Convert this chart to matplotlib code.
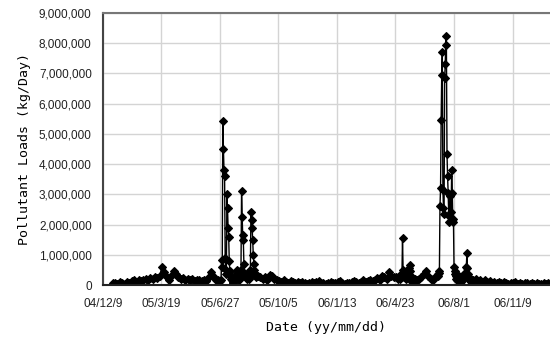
import pandas as pd
import matplotlib
matplotlib.use("Agg")
import matplotlib.pyplot as plt
from matplotlib.ticker import FuncFormatter

origin = pd.Timestamp("2004-12-09")

# daily pollutant loads (1000 kg/day); each block: first day after origin, step in days, values
winter_spring_2005 = (17, 4, [
    60, 80, 50, 90, 70, 40, 100, 80, 120, 150,
    110, 170, 130, 180, 210, 160, 230, 200, 250, 220,
    300, 600, 420, 250, 180, 300, 450, 380, 260, 200,
    230, 170, 210, 160, 190, 140, 180, 150, 120, 170,
    140, 250, 420, 300, 150, 180])

summer_2005 = (201, 1, [
    120, 180, 830, 600, 5420, 4500, 3800, 3600, 900, 500,
    350, 3000, 2550, 1900, 1600, 800, 450, 300, 200, 250,
    150, 100, 60, 120, 200, 150, 300, 250, 400, 500,
    350, 200, 150, 300, 450, 500, 3100, 2250, 1650, 1500,
    700, 400, 300, 250, 300, 200, 350, 250, 200, 300,
    500, 350, 2400, 2150, 1900, 1500, 1000, 700, 500, 350,
    250, 300])

autumn_winter = (265, 4, [
    300, 250, 200, 260, 180, 340, 300, 200, 150, 120,
    100, 150, 90, 80, 120, 100, 70, 90, 60, 110,
    80, 50, 70, 100, 60, 90, 140, 80, 60, 50,
    70, 110, 80, 60, 90, 120, 70, 50, 80, 60,
    100, 130, 90, 70, 110, 150, 100, 120, 180, 130,
    160, 220, 180, 300, 250, 200, 420, 300, 250, 280,
    200])

may_2006 = (506, 1, [
    250, 300, 200, 350, 250, 300, 1550, 500, 300, 250,
    400, 300, 200, 350, 300, 400, 450, 550, 650, 450,
    300, 150, 100, 150, 200, 120, 100, 200])

june_2006 = (536, 4, [150, 200, 250, 350, 480, 300, 200, 150, 250, 300])

summer_2006 = (573, 1, [
    350, 450, 400, 2600, 3200, 5450, 6950, 7700, 3150, 2550,
    2350, 6850, 7300, 8250, 7950, 4350, 3600, 3050, 2300, 2100,
    2950, 3000, 2400, 3800, 3050, 2100, 2200, 600, 450, 350,
    300, 200, 150, 250, 200, 300, 250, 200, 150, 100,
    150, 200, 300, 250, 350, 400, 300, 350, 600, 1050,
    550, 350, 250, 200, 150, 120, 150, 100])

late_2006 = (633, 4, [
    150, 200, 120, 180, 100, 150, 90, 130, 80, 110,
    70, 100, 60, 90, 70, 50, 80, 60, 90, 50,
    70, 40, 60, 80, 50, 70, 40, 60, 30, 50,
    70, 40, 60])

frames = []
for start, step, vals in [winter_spring_2005, summer_2005, autumn_winter,
                          may_2006, june_2006, summer_2006, late_2006]:
    dates = origin + pd.to_timedelta(range(start, start + step * len(vals), step), unit="D")
    frames.append(pd.DataFrame({"date": dates, "load": [v * 1000 for v in vals]}))
df = pd.concat(frames).sort_values("date")

tick_days = [0, 100, 200, 300, 400, 500, 600, 700]
tick_labels = ["04/12/9", "05/3/19", "05/6/27", "05/10/5",
               "06/1/13", "06/4/23", "06/8/1", "06/11/9"]

fig = plt.figure(figsize=(5.5, 3.43), dpi=100)
ax = fig.add_axes([0.187, 0.169, 0.813, 0.793])

ax.plot(df["date"], df["load"], color="black", lw=1.0,
        marker="D", markersize=4.4, markerfacecolor="black", markeredgewidth=0.8)

ax.set_xlim(origin, origin + pd.Timedelta(days=764))
ax.set_ylim(0, 9000000)
ax.set_yticks(range(0, 9000001, 1000000))
ax.yaxis.set_major_formatter(FuncFormatter(lambda v, p: f"{int(v):,}"))
ax.set_xticks([origin + pd.Timedelta(days=d) for d in tick_days])
ax.set_xticklabels(tick_labels)

ax.grid(True, color="#d4d4d4", lw=1.0)
ax.set_axisbelow(True)
ax.tick_params(length=0, labelsize=8.5, colors="#222222")
ax.tick_params(axis="x", pad=9)
ax.tick_params(axis="y", pad=8)
for lbl in ax.get_xticklabels() + ax.get_yticklabels():
    lbl.set_family("Liberation Sans")

ax.spines["right"].set_visible(False)
ax.spines["top"].set_color("#777777")
ax.spines["top"].set_linewidth(1.5)
ax.spines["left"].set_color("#444444")
ax.spines["left"].set_linewidth(1.5)
ax.spines["bottom"].set_color("#222222")
ax.spines["bottom"].set_linewidth(1.5)

ax.set_xlabel("Date (yy/mm/dd)", family="DejaVu Sans Mono", fontsize=9.5, labelpad=8)
ax.set_ylabel("Pollutant Loads (kg/Day)", family="DejaVu Sans Mono", fontsize=9.5, labelpad=6)

fig.savefig("out.png", dpi=100)
